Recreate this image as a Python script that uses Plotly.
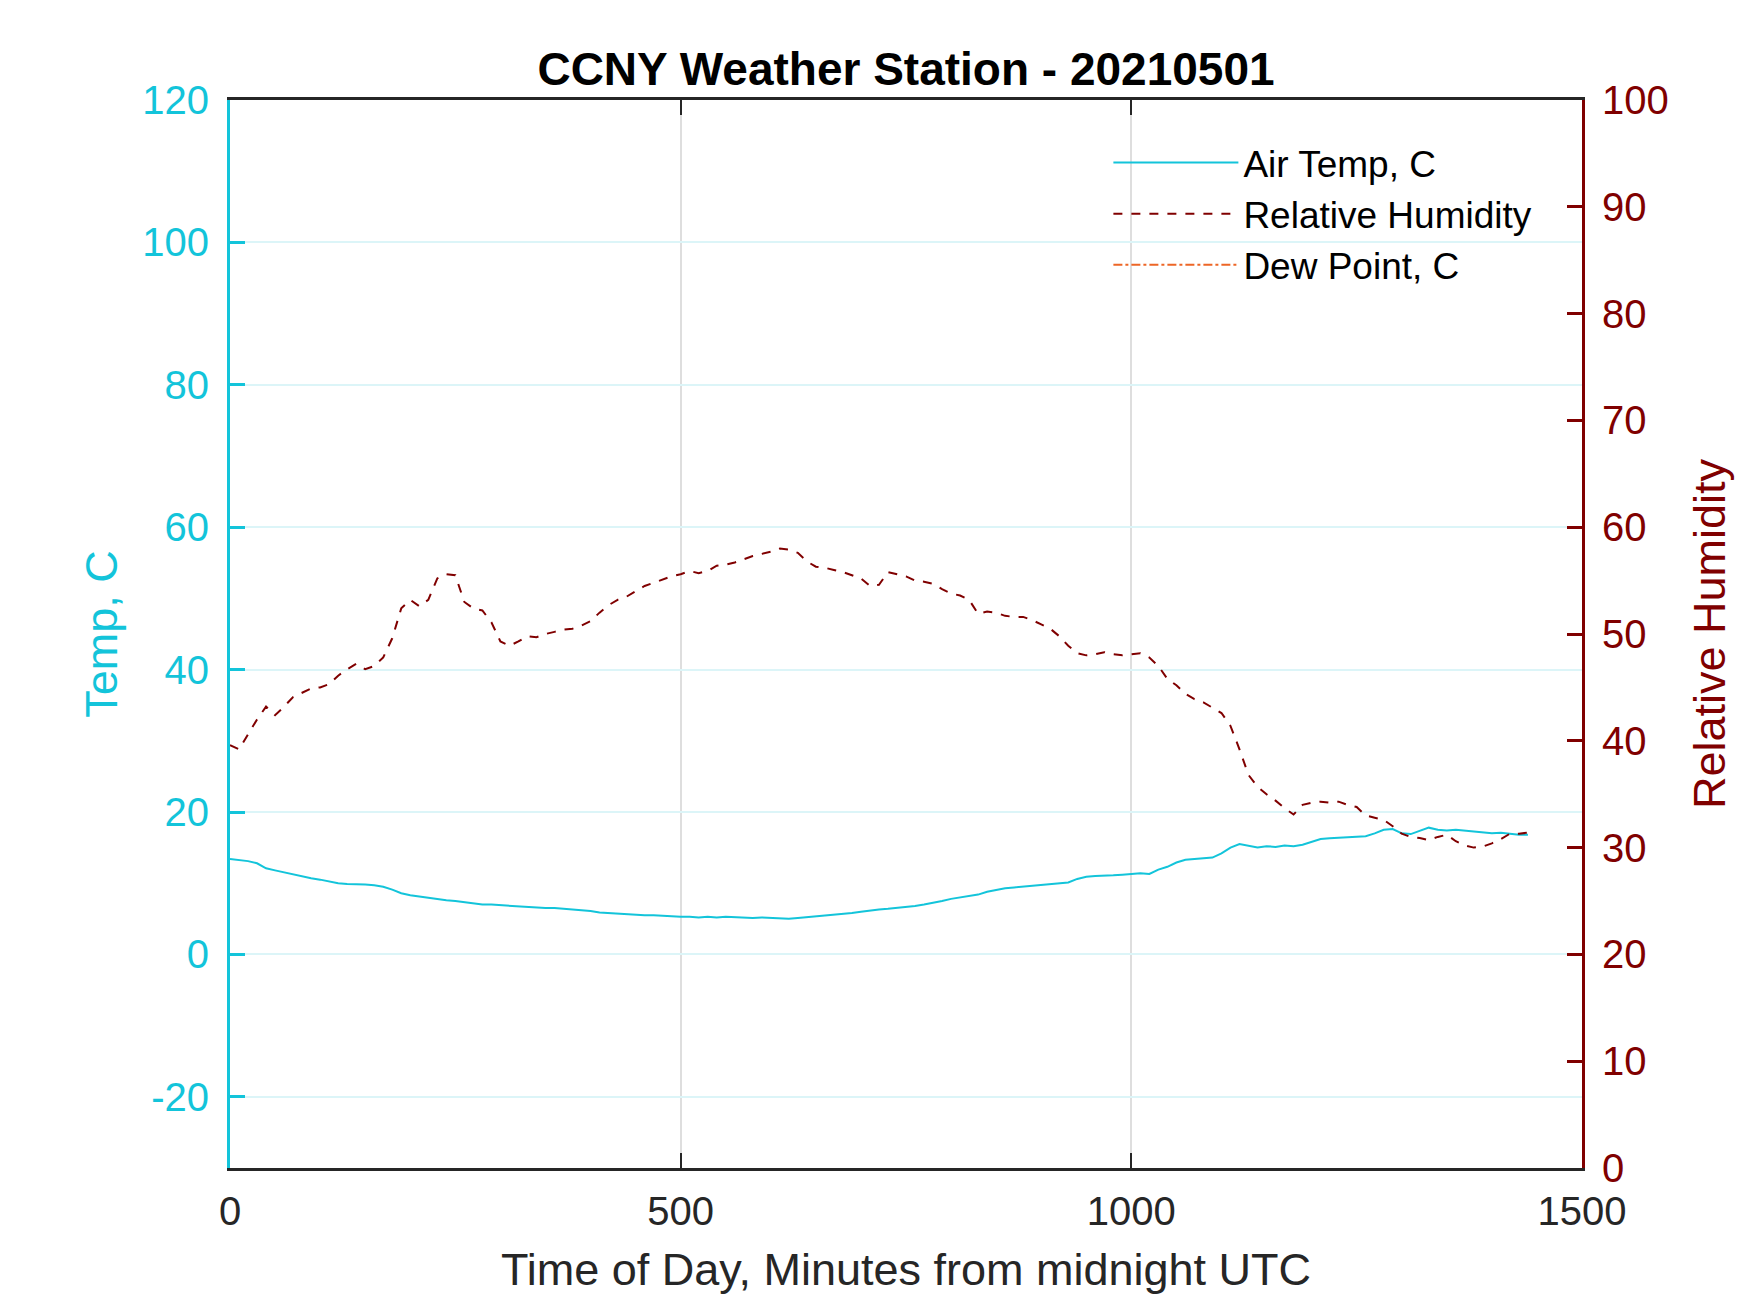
import plotly.graph_objects as go

# minutes from midnight UTC, 10 minute steps
minutes = list(range(0, 1441, 10))

air_temp = [
    13.4, 13.3, 13.1, 12.8, 12.1, 11.8, 11.5, 11.2, 10.9, 10.7,
    10.5, 10.2, 10.0, 9.9, 9.9, 9.8, 9.7, 9.5, 9.1, 8.6,
    8.3, 8.1, 7.9, 7.7, 7.6, 7.5, 7.3, 7.1, 7.0, 7.0,
    6.9, 6.8, 6.7, 6.6, 6.6, 6.5, 6.5, 6.4, 6.4, 6.3,
    6.1, 5.9, 5.8, 5.7, 5.7, 5.6, 5.5, 5.5, 5.4, 5.4,
    5.3, 5.3, 5.2, 5.3, 5.2, 5.3, 5.2, 5.2, 5.1, 5.2,
    5.1, 5.1, 5.0, 5.1, 5.2, 5.3, 5.4, 5.5, 5.6, 5.8,
    6.0, 6.2, 6.3, 6.4, 6.5, 6.6, 6.8, 7.0, 7.2, 7.5,
    7.8, 8.0, 8.1, 8.4, 8.8, 9.1, 9.3, 9.4, 9.5, 9.6,
    9.8, 9.9, 10.0, 10.1, 10.6, 10.9, 11.0, 11.0, 11.1, 11.2,
    11.3, 11.4, 11.3, 11.9, 12.3, 12.9, 13.3, 13.4, 13.5, 13.6,
    14.2, 15.0, 15.5, 15.2, 15.0, 15.2, 15.1, 15.3, 15.2, 15.4,
    15.8, 16.2, 16.3, 16.4, 16.5, 16.6, 16.6, 17.0, 17.5, 17.6,
    17.0, 16.9, 17.4, 17.8, 17.5, 17.4, 17.5, 17.4, 17.3, 17.2,
    17.0, 17.1, 16.9, 16.8, 16.8,
]

rel_humidity = [
    39.6, 39.2, 40.6, 42.0, 43.2, 42.4, 43.2, 44.1, 44.5, 44.9,
    45.0, 45.3, 46.1, 46.7, 47.2, 46.7, 47.0, 47.8, 49.6, 52.4,
    53.2, 52.6, 53.2, 55.2, 55.6, 55.5, 53.0, 52.4, 52.2, 51.1,
    49.3, 48.9, 49.3, 49.8, 49.7, 50.0, 50.2, 50.4, 50.5, 50.8,
    51.2, 52.0, 52.7, 53.2, 53.5, 54.0, 54.5, 54.8, 55.1, 55.4,
    55.6, 55.9, 55.7, 55.9, 56.4, 56.5, 56.7, 57.0, 57.3, 57.5,
    57.7, 58.0, 57.9, 57.6, 56.8, 56.3, 56.2, 56.0, 55.8, 55.5,
    55.2, 54.5, 54.6, 55.8, 55.6, 55.4, 55.0, 54.9, 54.7, 54.2,
    53.8, 53.6, 53.2, 51.9, 52.1, 52.0, 51.7, 51.6, 51.6, 51.3,
    50.9, 50.5, 49.8, 48.9, 48.2, 48.0, 48.1, 48.3, 48.1, 48.0,
    48.1, 48.2, 47.8, 47.0, 45.8, 45.2, 44.4, 43.9, 43.6, 43.1,
    42.6, 41.4, 39.2, 36.8, 35.7, 35.0, 34.4, 33.7, 33.1, 34.0,
    34.2, 34.3, 34.2, 34.3, 34.0, 33.8, 33.0, 32.8, 32.6, 32.0,
    31.3, 31.0, 30.9, 30.7, 31.0, 31.2, 30.6, 30.2, 30.0, 30.1,
    30.4, 30.8, 31.3, 31.3, 31.4,
]

# dew point sits below the bottom of the humidity axis, so only the legend shows it
dew_minutes = list(range(0, 1441, 60))
dew_point = [
    -0.6, -1.0, -1.2, -1.3, -1.5, -1.8, -2.0, -2.1, -2.3, -2.4,
    -2.5, -2.6, -2.6, -2.5, -2.3, -2.0, -1.7, -1.4, -1.2, -1.0,
    -1.2, -0.9, -0.8, -0.7, -0.7,
]

temp_ticks = [-20, 0, 20, 40, 60, 80, 100, 120]
temp_labels = ["-20", "0", "20", "40", "60", "80", "100", "120"]
rh_ticks = [0, 10, 20, 30, 40, 50, 60, 70, 80, 90, 100]
time_ticks = [0, 500, 1000, 1500]

CYAN = "#13c4da"
DARKRED = "#800000"
ORANGE = "#ed6626"
INK = "#262626"
FONT = "Liberation Sans, Arial, sans-serif"

fig = go.Figure()
fig.add_trace(go.Scatter(x=minutes, y=air_temp, name="Air Temp, C", mode="lines",
                         line=dict(color=CYAN, width=2)))
fig.add_trace(go.Scatter(x=minutes, y=rel_humidity, name="Relative Humidity", mode="lines",
                         line=dict(color=DARKRED, width=2, dash="dash"), yaxis="y2"))
fig.add_trace(go.Scatter(x=dew_minutes, y=dew_point, name="Dew Point, C", mode="lines",
                         line=dict(color=ORANGE, width=2, dash="dashdot"), yaxis="y2"))

# page body has a small margin, so the figure is a bit smaller than the window
fig.update_layout(
    width=1742, height=1305,
    margin=dict(l=222, r=168, t=92, b=145),
    paper_bgcolor="white", plot_bgcolor="white",
    font=dict(family=FONT, size=40, color=INK),
    title=dict(text="<b>CCNY Weather Station - 20210501</b>", x=0.5, xref="paper",
               xanchor="center", y=0.953, yanchor="middle",
               font=dict(size=46, color="black")),
    showlegend=True,
    legend=dict(x=0.967, xanchor="right", y=0.97, yanchor="top",
                bgcolor="rgba(0,0,0,0)", font=dict(size=37, color="black"),
                itemwidth=125, tracegroupgap=0),
    xaxis=dict(range=[0, 1500], tickvals=time_ticks, ticks="inside", ticklen=15,
               tickwidth=2, tickcolor=INK, showline=True, linecolor=INK, linewidth=3,
               mirror="ticks", showgrid=True, gridcolor="#dedede", gridwidth=2,
               zeroline=False, tickfont=dict(size=40, color=INK), ticklabelstandoff=6,
               title=dict(text="Time of Day, Minutes from midnight UTC",
                          font=dict(size=45, color=INK), standoff=22)),
    yaxis=dict(range=[-30, 120], tickvals=temp_ticks, ticktext=temp_labels,
               ticks="inside", ticklen=15,
               tickwidth=3, tickcolor=CYAN, showline=True, linecolor=CYAN, linewidth=3,
               showgrid=True, gridcolor="#dcf5f8", gridwidth=2, zeroline=False,
               tickfont=dict(size=40, color=CYAN), ticklabelstandoff=10,
               title=dict(text="Temp, C", font=dict(size=45, color=CYAN), standoff=11)),
    yaxis2=dict(range=[0, 100], tickvals=rh_ticks, overlaying="y", side="right",
                ticks="inside", ticklen=15, tickwidth=3, tickcolor=DARKRED,
                showline=True, linecolor=DARKRED, linewidth=3, showgrid=False,
                zeroline=False, tickfont=dict(size=40, color=DARKRED), ticklabelstandoff=9,
                title=dict(text="Relative Humidity", font=dict(size=45, color=DARKRED),
                           standoff=26)),
)

fig.write_html("out.html")
